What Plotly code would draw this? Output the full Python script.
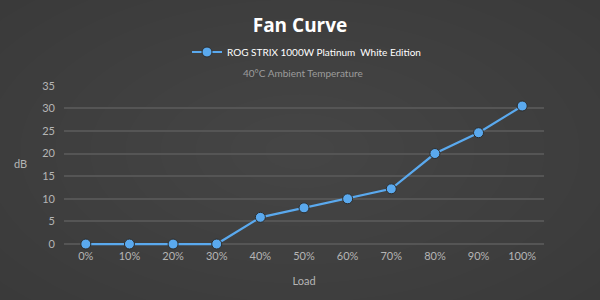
import plotly.graph_objects as go

loads = ["0%", "10%", "20%", "30%", "40%", "50%", "60%", "70%", "80%", "90%", "100%"]
db_values = [0, 0, 0, 0, 5.9, 8, 10, 12.2, 20, 24.6, 30.5]
series_name = "ROG STRIX 1000W Platinum  White Edition"

# plot area in pixels: y=0 sits at 244, y=35 at 84; a small pad below zero keeps the line unclipped
L, R, T, B = 64, 544, 84, 248
W, H = R - L, B - T
Y_MIN, Y_MAX = -0.875, 35


def px(x):
    return (x - L) / W


def py(y):
    return (B - y) / H


fig = go.Figure()
fig.add_trace(go.Scatter(
    x=loads, y=db_values, name=series_name, mode="lines+markers",
    line=dict(color="#5aa9ee", width=2.2),
    marker=dict(size=10, color="#5aa9ee", line=dict(color="#2c2c2c", width=1)),
    cliponaxis=False,
))

# soft radial background gradient
shapes = []
n = 12
for i in range(n):
    f = 1 - i / n
    rx, ry = 420 * f, 230 * f
    shapes.append(dict(type="circle", xref="paper", yref="paper", layer="below",
                       x0=px(300 - rx), x1=px(300 + rx), y0=py(150 + ry), y1=py(150 - ry),
                       fillcolor="rgba(255,255,255,0.009)", line=dict(width=0)))

fig.update_layout(
    width=600, height=300,
    paper_bgcolor="#393939", plot_bgcolor="rgba(0,0,0,0)",
    margin=dict(l=L, r=600 - R, t=T, b=300 - B),
    font=dict(family="Lato, Open Sans, sans-serif", color="#bdbdbd", size=11),
    title=dict(text="<b>Fan Curve</b>", x=0.5, xanchor="center", y=1 - 25 / 300, yanchor="middle",
               font=dict(size=19, color="#ffffff", family="Open Sans, Lato, sans-serif")),
    showlegend=True,
    legend=dict(orientation="h", x=187 / 600, xanchor="left", xref="container",
                y=1 - 52 / 300, yref="container", yanchor="middle",
                font=dict(size=10, color="#ffffff"), bgcolor="rgba(0,0,0,0)"),
    xaxis=dict(showgrid=False, zeroline=False, showline=False, ticks="",
               range=[-0.5, 10.5], tickfont=dict(color="#b5b5b5", size=11),
               ticklabelstandoff=0,
               title=dict(text="Load", font=dict(color="#b5b5b5", size=11), standoff=16)),
    yaxis=dict(range=[Y_MIN, Y_MAX], tickvals=[0, 5, 10, 15, 20, 25, 30, 35],
               gridcolor="#555555", gridwidth=1.5, zeroline=False,
               showline=False, ticks="", ticklabelstandoff=8,
               tickfont=dict(color="#b5b5b5", size=11),
               title=dict(text="")),
    shapes=shapes,
    annotations=[
        dict(text="40°C Ambient Temperature", xref="paper", yref="paper",
             x=px(303), y=py(71), xanchor="center", yanchor="middle", showarrow=False,
             font=dict(color="#9c9c9c", size=10)),
        dict(text="dB", xref="paper", yref="paper", x=px(20), y=py(163),
             xanchor="center", yanchor="middle",
             showarrow=False, font=dict(color="#b5b5b5", size=11)),
    ],
)
fig.write_html("out.html")
